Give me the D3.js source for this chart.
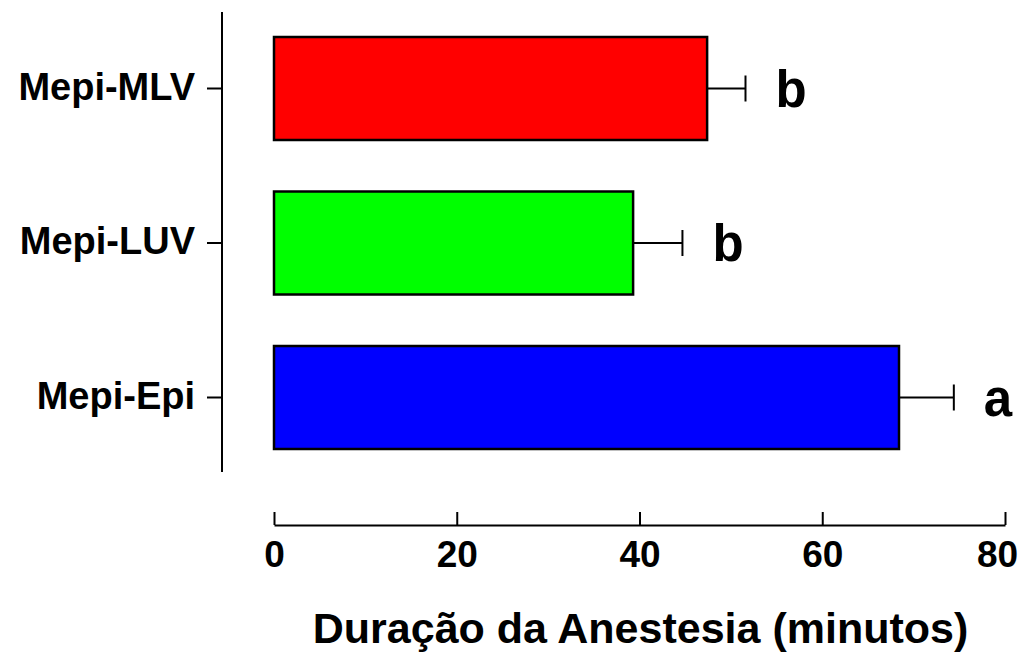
<!DOCTYPE html>
<html>
<head>
<meta charset="utf-8">
<script src="https://cdn.jsdelivr.net/npm/d3@7"></script>
<style>
  body { margin: 0; background: #fff; }
  text { font-family: "Liberation Sans", Arial, sans-serif; font-weight: bold; }
</style>
</head>
<body>
<script>
// data
var groups = ['Mepi-MLV', 'Mepi-LUV', 'Mepi-Epi']
var means = [47.4, 39.3, 68.4]
var sems = [4.2, 5.4, 6.0]
var letters = ['b', 'b', 'a']
var colors = ['#ff0000', '#00ff00', '#0000ff']
var xTicks = [0, 20, 40, 60, 80]

var width = 1029
var height = 652

var svg = d3.select('body')
            .append('svg')
            .attr('width', width)
            .attr('height', height);

var x = d3.scaleLinear().domain([0, 80]).range([274, 1005])
var y = d3.scaleBand().domain(groups)
            .range([11.25, 474.75])
            .paddingInner(1 / 3)
            .paddingOuter(1 / 6)

// y axis (detached, to the left of the bars)
var yAxis = svg.append('g')
    .attr('transform', 'translate(222,0)')
    .call(d3.axisLeft(y).tickSize(15).tickSizeOuter(0).tickPadding(12))
yAxis.select('.domain').attr('d', 'M0,12V472').attr('stroke-width', 2)
yAxis.selectAll('.tick line').attr('stroke-width', 2)
yAxis.selectAll('.tick text')
    .attr('font-size', '38px')
    .attr('fill', '#000')
    .attr('dy', '0.3em')

// x axis (ticks point up)
var xAxis = svg.append('g')
    .attr('transform', 'translate(0,525)')
    .call(d3.axisBottom(x).tickValues(xTicks).tickSize(-13).tickSizeOuter(0).tickPadding(0))
xAxis.select('.domain').attr('stroke-width', 2)
xAxis.selectAll('.tick line').attr('stroke-width', 2)
xAxis.selectAll('.tick text')
    .attr('font-size', '37px')
    .attr('fill', '#000')
    .attr('y', 42)
    .attr('dy', 0)
    .attr('dx', function(d){ return d === 80 ? -8 : 0 })

svg.append('text')
    .attr('x', (x(0) + x(80)) / 2 + 1)
    .attr('y', 643)
    .attr('text-anchor', 'middle')
    .attr('font-size', '43px')
    .text('Duração da Anestesia (minutos)')

var group = svg.selectAll('g.bar')
    .data(groups)
    .enter().append('g')
    .attr('class', 'bar')

// error bars (right side only)
group.append('line')
    .attr('x1', function(d, i){ return x(means[i]) })
    .attr('x2', function(d, i){ return x(means[i] + sems[i]) })
    .attr('y1', function(d){ return y(d) + y.bandwidth() / 2 })
    .attr('y2', function(d){ return y(d) + y.bandwidth() / 2 })
    .attr('stroke', '#000')
    .attr('stroke-width', 2)
group.append('line')
    .attr('x1', function(d, i){ return x(means[i] + sems[i]) })
    .attr('x2', function(d, i){ return x(means[i] + sems[i]) })
    .attr('y1', function(d){ return y(d) + y.bandwidth() / 2 - 13 })
    .attr('y2', function(d){ return y(d) + y.bandwidth() / 2 + 13 })
    .attr('stroke', '#000')
    .attr('stroke-width', 2)

group.append('rect')
    .attr('x', x(0))
    .attr('y', function(d){ return y(d) })
    .attr('width', function(d, i){ return x(means[i]) - x(0) })
    .attr('height', y.bandwidth())
    .attr('fill', function(d, i){ return colors[i] })
    .attr('stroke', '#000')
    .attr('stroke-width', 2.5)

group.append('text')
    .attr('x', function(d, i){ return x(means[i] + sems[i]) + 30 })
    .attr('y', function(d){ return y(d) + y.bandwidth() / 2 + 18 })
    .attr('font-size', '51px')
    .text(function(d, i){ return letters[i] })
</script>
</body>
</html>
